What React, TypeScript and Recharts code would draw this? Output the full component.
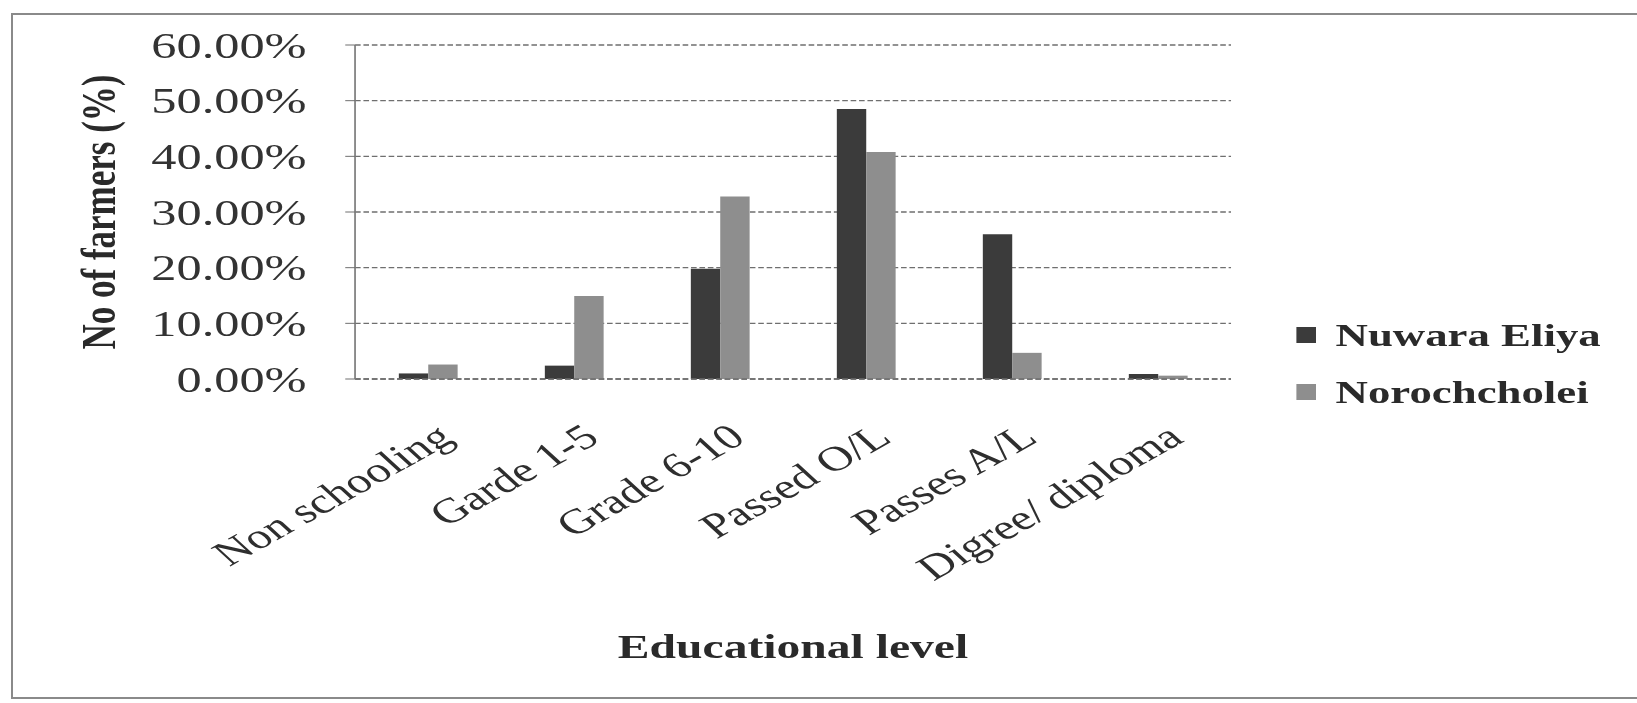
import React from "react"
import {
  BarChart,
  Bar,
  XAxis,
  YAxis,
  CartesianGrid,
  Legend,
} from "recharts"

const levels = [
  "Non schooling",
  "Garde 1-5",
  "Grade 6-10",
  "Passed O/L",
  "Passes A/L",
  "Digree/ diploma",
]
const nuwaraEliya = [1.0, 2.4, 19.8, 48.5, 26.0, 0.9]
const norochcholei = [2.6, 14.9, 32.8, 40.8, 4.7, 0.6]
const yTicks = [0, 10, 20, 30, 40, 50, 60]

const series = [
  { key: "nuwara", name: "Nuwara Eliya", fill: "#3b3b3b" },
  { key: "noro", name: "Norochcholei", fill: "#8e8e8e" },
]

const data = levels.map((level, i) => ({
  level,
  nuwara: nuwaraEliya[i],
  noro: norochcholei[i],
}))

const SERIF = '"Liberation Serif", "Times New Roman", serif'

// the figure is drawn narrow and stretched sideways, like the printed original
const STRETCH = 1.4
const W = 1170
const H = 703

function LevelTick({ x, y, payload }: any) {
  const ax = x + 4
  const ay = y + 42
  return (
    <text
      x={ax}
      y={ay}
      dy="0.72em"
      textAnchor="end"
      transform={`rotate(-38 ${ax} ${ay})`}
      fontFamily={SERIF}
      fontSize={35}
      fill="#2e2e2e"
    >
      {payload.value}
    </text>
  )
}

function SeriesLegend() {
  return (
    <div style={{ fontFamily: SERIF }}>
      {series.map((s) => (
        <div
          key={s.key}
          style={{ display: "flex", alignItems: "center", height: 57 }}
        >
          <span
            style={{
              display: "inline-block",
              width: 14,
              height: 16,
              background: s.fill,
              marginRight: 14,
            }}
          />
          <span
            style={{
              fontSize: 32,
              fontWeight: "bold",
              color: "#2a2a2a",
              whiteSpace: "nowrap",
            }}
          >
            {s.name}
          </span>
        </div>
      ))}
    </div>
  )
}

export default function App() {
  return (
    <div
      style={{
        position: "absolute",
        left: 0,
        top: 0,
        width: 1637,
        height: H,
        overflow: "hidden",
        background: "#fff",
      }}
    >
      <div
        style={{
          position: "absolute",
          left: 11,
          top: 13,
          width: 1700,
          height: 682,
          border: "2px solid #8a8a8a",
        }}
      />
      <div
        style={{
          position: "absolute",
          left: 0,
          top: 0,
          width: W,
          height: H,
          transform: `scaleX(${STRETCH})`,
          transformOrigin: "0 0",
        }}
      >
        <BarChart
          width={W}
          height={H}
          data={data}
          margin={{ top: 45, right: 290.7, bottom: 45, left: 69.6 }}
          barCategoryGap="30%"
          barGap={0}
        >
          <CartesianGrid
            vertical={false}
            stroke="#6f6f6f"
            strokeWidth={1.3}
            strokeDasharray="4 2"
          />
          <XAxis
            dataKey="level"
            height={279}
            interval={0}
            tickSize={0}
            tickMargin={0}
            tickLine={false}
            axisLine={{ stroke: "#6f6f6f", strokeWidth: 1.3, strokeDasharray: "4 2" }}
            tick={<LevelTick />}
            label={{
              value: "Educational level",
              position: "insideBottom",
              offset: 0,
              style: {
                fontFamily: SERIF,
                fontSize: 34,
                fontWeight: "bold",
                fill: "#2a2a2a",
              },
            }}
          />
          <YAxis
            width={184}
            domain={[0, 60]}
            ticks={yTicks}
            interval={0}
            tickFormatter={(v) => `${Number(v).toFixed(2)}%`}
            tickSize={7}
            tickMargin={27.6}
            tickLine={{ stroke: "#6f6f6f" }}
            axisLine={{ stroke: "#7a7a7a", strokeWidth: 1.2 }}
            tick={{ fontFamily: SERIF, fontSize: 36, fill: "#333" }}
            label={{
              value: "No of farmers (%)",
              angle: -90,
              position: "insideLeft",
              offset: 0,
              style: {
                fontFamily: SERIF,
                fontSize: 35,
                fontWeight: "bold",
                fill: "#2a2a2a",
                textAnchor: "middle",
              },
            }}
          />
          <Legend
            layout="vertical"
            align="center"
            verticalAlign="middle"
            width={320}
            wrapperStyle={{ left: 926, top: 306.5 }}
            content={<SeriesLegend />}
          />
          {series.map((s) => (
            <Bar
              key={s.key}
              dataKey={s.key}
              name={s.name}
              fill={s.fill}
              isAnimationActive={false}
            />
          ))}
        </BarChart>
      </div>
    </div>
  )
}
